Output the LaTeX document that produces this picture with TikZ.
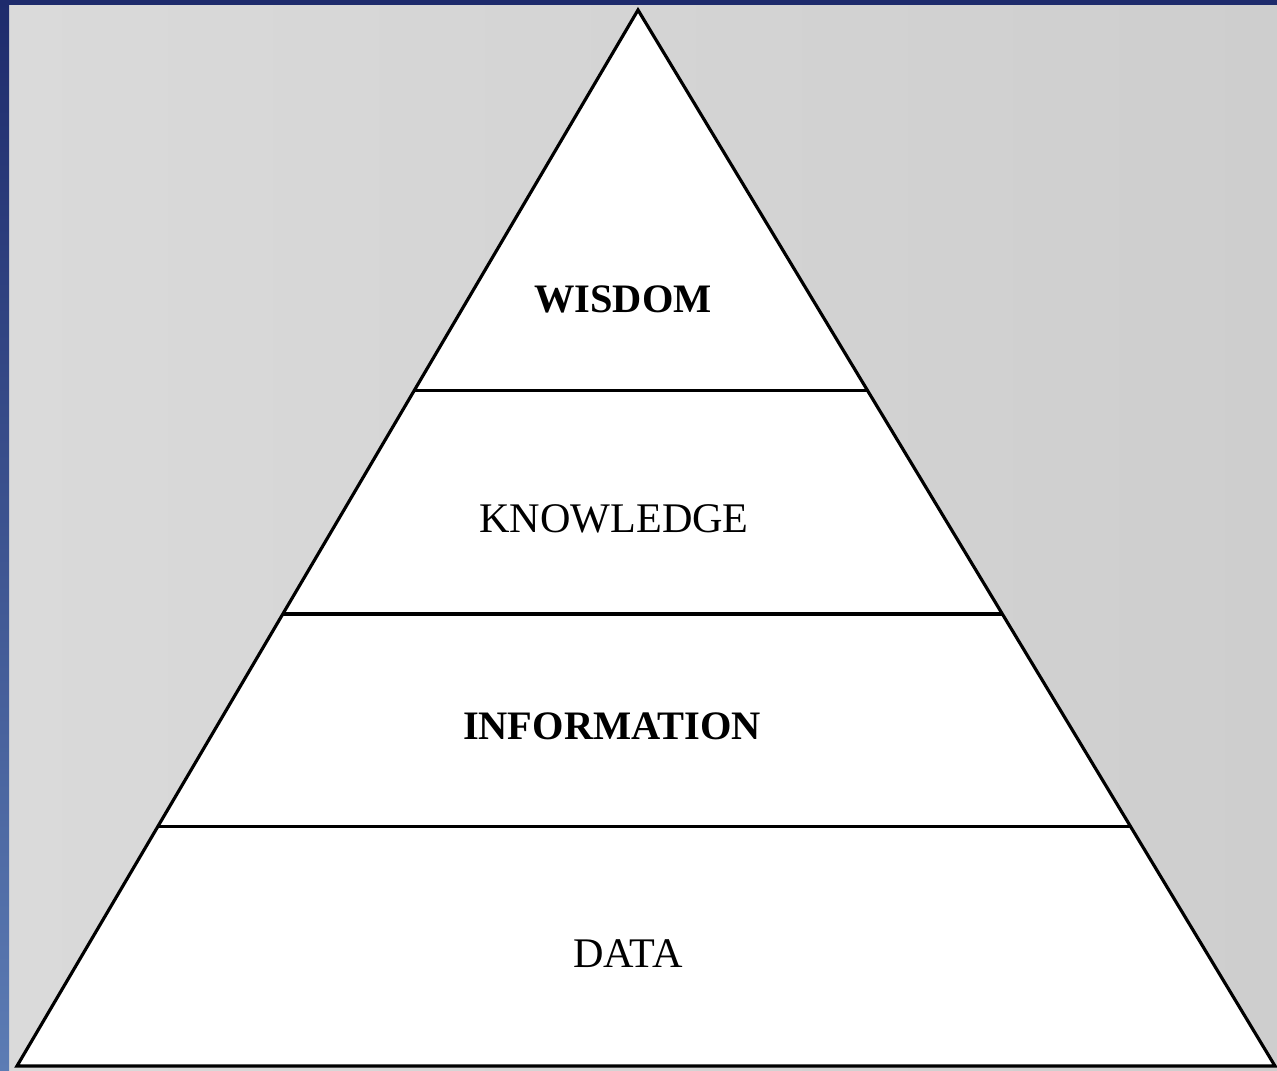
\documentclass[tikz,border=0pt]{standalone}
\usepackage{fontspec}
\setmainfont{Liberation Serif}
\usetikzlibrary{calc}

\definecolor{navy}{RGB}{30,43,108}
\definecolor{slate}{RGB}{92,124,180}
\definecolor{paperl}{RGB}{218,218,218}
\definecolor{paperr}{RGB}{206,206,206}

\tikzset{
  level/.style={font=\fontsize{24}{28}\selectfont},
  boldlevel/.style={font=\fontsize{23}{28}\selectfont\bfseries},
  edge/.style={line width=1.8pt, line join=miter}
}

\begin{document}
\begin{tikzpicture}[x=0.2mm,y=-0.2mm]
      \useasboundingbox (0,0) rectangle (1277,1071);

      % frame and paper
      \shade[left color=paperl, right color=paperr] (9,5) rectangle (1277,1071);
      \fill[navy] (0,0) rectangle (1277,5);
      \shade[top color=navy, bottom color=slate] (0,0) rectangle (9,1071);

      \coordinate (top) at (638,10);
      \coordinate (bl) at (17,1066);
      \coordinate (br) at (1275,1066);

      \fill[white] (top)--(bl)--(br)--cycle;
      \draw[edge] (top)--(bl)--(br)--cycle;

      % layer dividers
      \draw[edge] ($(top)!0.36!(bl)$)--($(top)!0.36!(br)$);
      \draw[edge] ($(top)!0.572!(bl)$)--($(top)!0.572!(br)$);
      \draw[edge] ($(top)!0.773!(bl)$)--($(top)!0.773!(br)$);

      \node[boldlevel] (wisdom) at (623,299) {WISDOM};
      \node[level] (knowledge) at (614,519) {KNOWLEDGE};
      \node[boldlevel] (information) at (612,726) {INFORMATION};
      \node[level] (data) at (628,954) {DATA};
    \end{tikzpicture}
\end{document}
